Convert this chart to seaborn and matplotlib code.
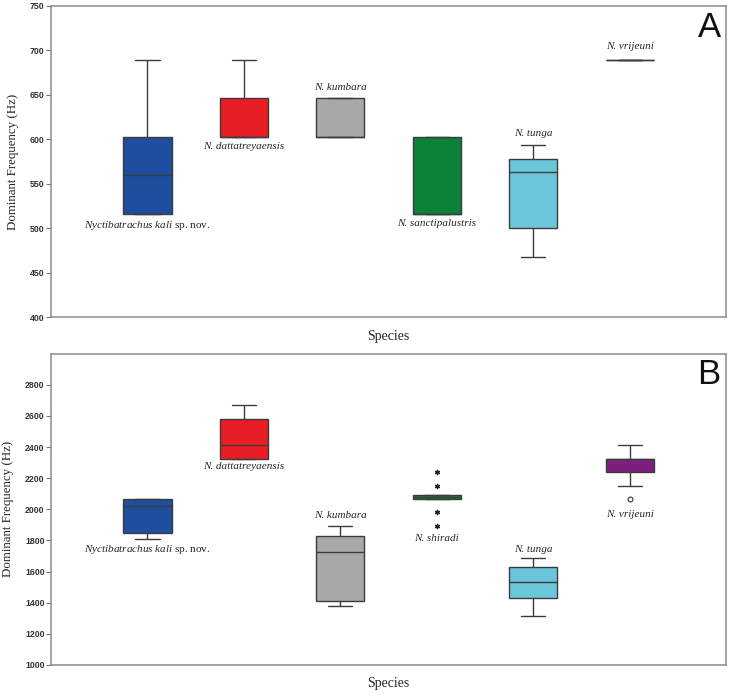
import numpy as np
import pandas as pd
import matplotlib
matplotlib.use("Agg")
import matplotlib.pyplot as plt
import seaborn as sns

# --- values (Hz): [low whisker, Q1, median, Q3, high whisker]
species_a = ["kali", "dattatreyaensis", "kumbara", "sanctipalustris", "tunga", "vrijeuni"]
a_kali = [516, 516, 560, 603, 689]
a_datt = [603, 603, 603, 646, 689]
a_kumbara = [603, 603, 603, 646, 646]
a_sanct = [516, 516, 516, 603, 603]
a_tunga = [468, 500, 563, 578, 594]
a_vrij = [689, 689, 689, 689, 689]

species_b = ["kali", "dattatreyaensis", "kumbara", "shiradi", "tunga", "vrijeuni"]
b_kali = [1808, 1851, 2024, 2067, 2067]
b_datt = [2326, 2326, 2412, 2582, 2669]
b_kumbara = [1377, 1409, 1724, 1827, 1896]
b_shiradi = [2067, 2067, 2080, 2091, 2091]
b_tunga = [1313, 1429, 1531, 1632, 1686]
b_vrij = [2153, 2237, 2326, 2326, 2412]

# extreme values (asterisks) and outliers (circles)
b_shiradi_extremes = [2239, 2153, 1981, 1896]
b_vrij_outliers = [2069]

labels = {
    "kali": r"$\mathit{Nyctibatrachus\ kali}$ sp. nov.",
    "dattatreyaensis": "N. dattatreyaensis",
    "kumbara": "N. kumbara",
    "sanctipalustris": "N. sanctipalustris",
    "shiradi": "N. shiradi",
    "tunga": "N. tunga",
    "vrijeuni": "N. vrijeuni",
}
colors = {
    "kali": "#1f4e9e",
    "dattatreyaensis": "#e81d25",
    "kumbara": "#a8a8a8",
    "sanctipalustris": "#0b8238",
    "shiradi": "#0b8238",
    "tunga": "#6cc6d9",
    "vrijeuni": "#7d1f7e",
}

# label offsets in pixels relative to box top/bottom (positive = above top)
offs_a = {"kali": -11, "dattatreyaensis": -10, "kumbara": 11,
          "sanctipalustris": -9, "tunga": 11, "vrijeuni": 14}
offs_b = {"kali": -10, "dattatreyaensis": -8, "kumbara": 10,
          "shiradi": -13, "tunga": 9, "vrijeuni": -16}

sns.set_style("white")
plt.rcParams["font.family"] = ["Liberation Serif", "DejaVu Serif"]
plt.rcParams["mathtext.fontset"] = "custom"
plt.rcParams["mathtext.it"] = "Liberation Serif:italic"
plt.rcParams["mathtext.rm"] = "Liberation Serif"

def to_frame(species, arrays):
    rows = []
    for sp, vals in zip(species, arrays):
        for v in vals:
            rows.append((sp, v))
    return pd.DataFrame(rows, columns=["species", "freq"])

df_a = to_frame(species_a, [a_kali, a_datt, a_kumbara, a_sanct, a_tunga, a_vrij])
df_b = to_frame(species_b, [b_kali, b_datt, b_kumbara, b_shiradi, b_tunga, b_vrij])

fig = plt.figure(figsize=(7.3, 6.94), dpi=100)
ax_a = fig.add_axes([0.0699, 0.5428, 0.9247, 0.4486])
ax_b = fig.add_axes([0.0699, 0.0418, 0.9247, 0.4486])

def draw_panel(ax, df, species, ylim, yticks, letter, offs, extra=None):
    sns.boxplot(data=df, x="species", y="freq", hue="species", order=species,
                hue_order=species, palette=[colors[s] for s in species],
                whis=(0, 100), width=0.5, saturation=1, linecolor="#3c3c3c",
                linewidth=1.0, legend=False, ax=ax)
    extra = extra or {}
    for sp, (pts, marker) in extra.items():
        xi = species.index(sp)
        if marker == "o":
            ax.scatter([xi] * len(pts), pts, marker="o", s=12, facecolor="white",
                       edgecolor="#333333", linewidth=0.8, zorder=5)
        else:
            ax.scatter([xi] * len(pts), pts, marker=(6, 2, 0), s=9,
                       color="#222222", linewidth=1.0, zorder=5)
    for i, sp in enumerate(species):
        vals = list(df.loc[df["species"] == sp, "freq"])
        if sp in extra:
            vals += list(extra[sp][0])
        off = offs[sp]
        yv = max(vals) if off > 0 else min(vals)
        ax.annotate(labels[sp], xy=(i, yv), xytext=(0, off), textcoords="offset pixels",
                    ha="center", va="center", fontsize=8,
                    style="normal" if sp == "kali" else "italic")
    ax.set_xlim(-1, 6)
    ax.set_ylim(*ylim)
    ax.set_yticks(yticks)
    ax.set_xticks([])
    ax.set_xlabel("Species", fontsize=10, labelpad=9)
    ax.set_ylabel("Dominant Frequency (Hz)", fontsize=9.3, labelpad=8)
    for lab in ax.get_yticklabels():
        lab.set_fontfamily(["Liberation Sans", "DejaVu Sans"])
        lab.set_fontsize(6.3)
        lab.set_color("#333333")
        lab.set_fontweight("bold")
    ax.tick_params(axis="y", left=True, length=3.6, width=0.8, color="#777777", pad=1)
    for s in ax.spines.values():
        s.set_color("#8c8c8c")
        s.set_linewidth(1.1)
    ax.text(0.992, 0.985, letter, transform=ax.transAxes, ha="right", va="top",
            fontsize=25, fontfamily=["Liberation Sans", "DejaVu Sans"], color="#111111")

draw_panel(ax_a, df_a, species_a, (400, 750), np.arange(400, 751, 50), "A", offs_a)
draw_panel(ax_b, df_b, species_b, (1000, 3000), np.arange(1000, 2801, 200), "B", offs_b,
           extra={"shiradi": (b_shiradi_extremes, "*"),
                  "vrijeuni": (b_vrij_outliers, "o")})

fig.savefig("out.png", dpi=100)
